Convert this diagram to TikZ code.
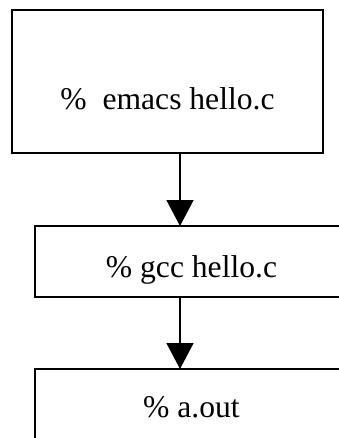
\documentclass[tikz,border=0pt]{standalone}
\usepackage{fontspec}
\setmainfont{Liberation Serif}
\usetikzlibrary{arrows.meta}
\begin{document}
\begin{tikzpicture}[x=1pt,y=1pt,
  box/.style={draw=black,line width=1.5pt,fill=white},
  txt/.style={font=\fontsize{31.6}{38}\selectfont,inner sep=0pt,anchor=base},
  flow/.style={line width=1.5pt,-{Triangle[length=26pt,width=27pt]}}]
\clip (0,0) rectangle (339,-438);
\fill[white] (0,0) rectangle (339,-438);
\draw[box] (12,-10) rectangle (323,-153);
\coordinate (b1s) at (167.5,-153);
\draw[box] (35,-226) rectangle (348,-297);
\coordinate (b2n) at (191.5,-226);
\coordinate (b2s) at (191.5,-297);
\draw[box] (35,-369) rectangle (348,-470);
\coordinate (b3n) at (191.5,-369);
\node[txt] (t1) at (167.5,-110) {\%\ \ emacs hello.c};
\node[txt] (t2) at (191.5,-277) {\% gcc hello.c};
\node[txt] (t3) at (191.5,-417) {\% a.out};
\coordinate (ax) at (180,0);
\draw[flow] (b1s -| ax) -- (b2n -| ax);
\draw[flow] (b2s -| ax) -- (b3n -| ax);
\end{tikzpicture}
\end{document}
